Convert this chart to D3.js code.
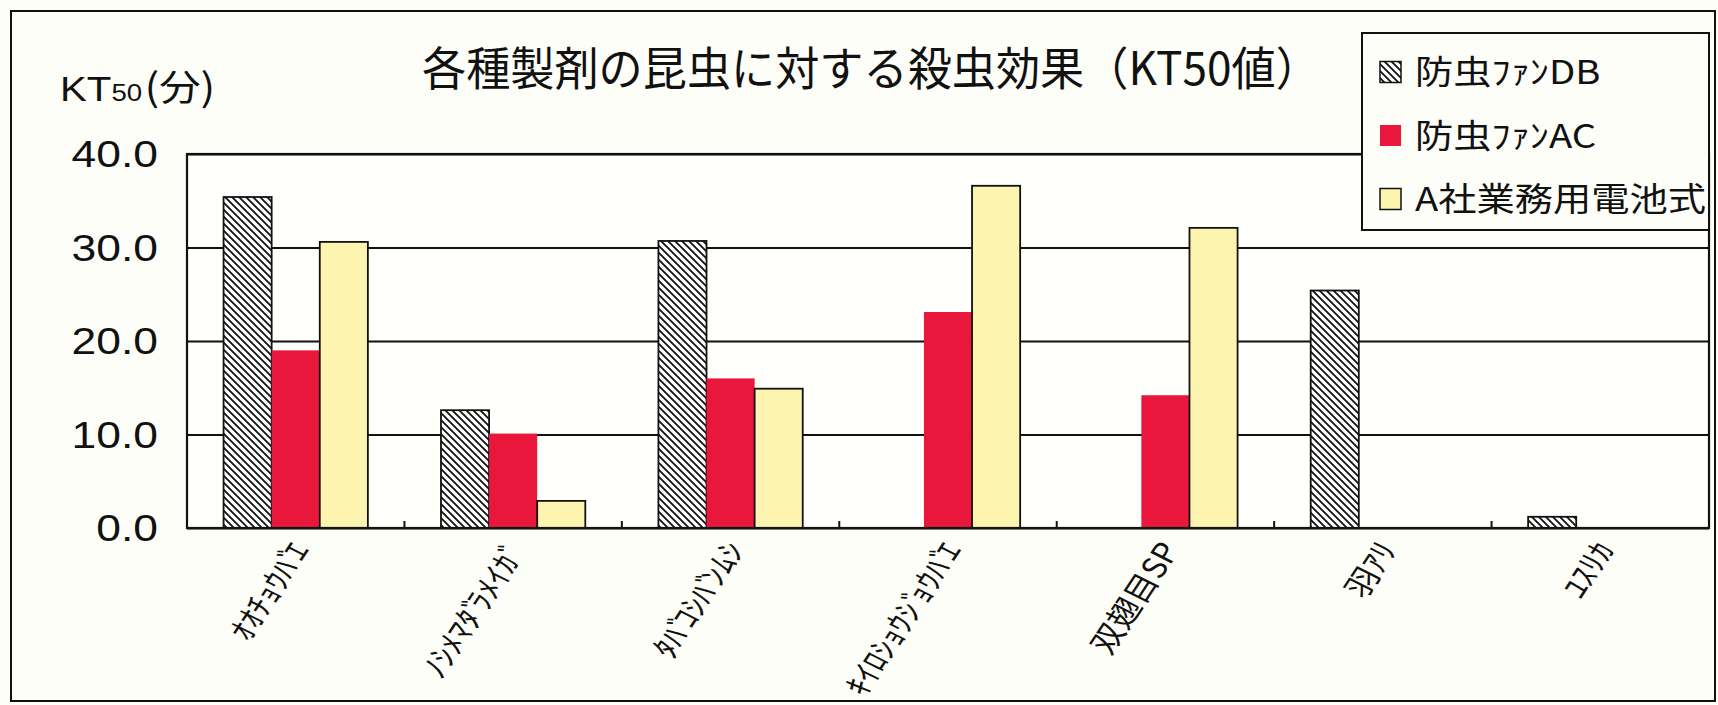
<!DOCTYPE html>
<html><head><meta charset="utf-8">
<script src="https://cdn.jsdelivr.net/npm/d3@7/dist/d3.min.js"></script>
<style>
html,body{margin:0;padding:0;background:#fefef8;}
svg{display:block;}
</style></head>
<body>
<script>
// ---- data ----
const categories = ["ｵｵﾁｮｳﾊﾞｴ","ﾉｼﾒﾏﾀﾞﾗﾒｲｶﾞ","ﾀﾊﾞｺｼﾊﾞﾝﾑｼ","ｷｲﾛｼｮｳｼﾞｮｳﾊﾞｴ","双翅目SP","羽ｱﾘ","ﾕｽﾘｶ"];
const seriesNames = ["防虫ﾌｧﾝDB","防虫ﾌｧﾝAC","A社業務用電池式"];
const valuesDB = [35.4, 12.6, 30.7, null, null, 25.4, 1.2];
const valuesAC = [19.0, 10.1, 16.0, 23.1, 14.2, null, null];
const valuesA  = [30.6, 2.9, 14.9, 36.6, 32.1, null, null];
const yTicks = [0, 10, 20, 30, 40];
const titleText = "各種製剤の昆虫に対する殺虫効果（KT50値）";

const W = 1718, H = 705;
const M = {left:187, right:1709, top:154, bottom:528};
const JP = "'Noto Sans CJK JP','Noto Sans',sans-serif";
const LAT = "'Liberation Sans',Arial,sans-serif";

const svg = d3.select("body").append("svg").attr("width", W).attr("height", H);
const defs = svg.append("defs");
const pat = defs.append("pattern").attr("id","hatch").attr("patternUnits","userSpaceOnUse")
  .attr("width",7).attr("height",7);
pat.append("rect").attr("width",7).attr("height",7).attr("fill","#ffffff");
pat.append("path").attr("d","M-1,-1 L8,8 M-1,6 L1,8 M6,-1 L8,1").attr("stroke","#111").attr("stroke-width",1.8);

const colors = ["url(#hatch)", "#e8173b", "#fdf4b0"];
const strokes = ["#111", "none", "#111"];

svg.append("rect").attr("width",W).attr("height",H).attr("fill","#fefef8");
// outer frame
svg.append("rect").attr("x",11).attr("y",11).attr("width",1704).attr("height",690)
  .attr("fill","none").attr("stroke","#111").attr("stroke-width",2);

const x = d3.scaleBand().domain(categories).range([M.left, M.right]).paddingInner(0).paddingOuter(0);
const x1 = d3.scaleBand().domain(seriesNames).range([0, x.bandwidth()]).paddingInner(0).paddingOuter(0.76);
const y = d3.scaleLinear().domain([0, 40]).range([M.bottom, M.top]);

// plot area
svg.append("rect").attr("x",M.left).attr("y",M.top).attr("width",M.right-M.left).attr("height",M.bottom-M.top)
  .attr("fill","#fffffb");

// gridlines
const yAxis = d3.axisLeft(y).tickValues(yTicks).tickSize(-(M.right-M.left)).tickFormat("");
const gy = svg.append("g").attr("transform",`translate(${M.left},0)`).call(yAxis);
gy.select(".domain").remove();
gy.selectAll(".tick line").attr("stroke","#111").attr("stroke-width",2);

// bars
const allVals = [valuesDB, valuesAC, valuesA];
const rows = [];
categories.forEach((c,i)=>seriesNames.forEach((s,j)=>{ if(allVals[j][i]!=null) rows.push({c,s,j,v:allVals[j][i]}); }));
svg.append("g").selectAll("rect").data(rows).join("rect")
  .attr("x",d=>x(d.c)+x1(d.s)).attr("width",x1.bandwidth())
  .attr("y",d=>y(d.v)).attr("height",d=>y(0)-y(d.v))
  .attr("fill",d=>colors[d.j]).attr("stroke",d=>strokes[d.j]).attr("stroke-width",1.8);

// plot border
svg.append("rect").attr("x",M.left).attr("y",M.top).attr("width",M.right-M.left).attr("height",M.bottom-M.top)
  .attr("fill","none").attr("stroke","#111").attr("stroke-width",2.2);

// x axis ticks (inward, at category boundaries)
const bounds = categories.slice(1).map(c=>x(c));
svg.append("g").selectAll("line").data(bounds).join("line")
  .attr("x1",d=>d).attr("x2",d=>d).attr("y1",M.bottom).attr("y2",M.bottom-7)
  .attr("stroke","#111").attr("stroke-width",2);

function stext(x0, y0, txt, size, family, anchor, sx, rot){
  const g = svg.append("g").attr("transform",`translate(${x0},${y0}) scale(${sx},1)` + (rot?` rotate(${rot})`:""));
  return g.append("text").attr("font-size",size).attr("font-family",family)
    .attr("text-anchor",anchor||"start").attr("fill","#111").text(txt);
}

// y tick labels
yTicks.forEach(t=>{
  stext(158, y(t)+13, d3.format(".1f")(t), 37, LAT, "end", 1.2);
});

// y axis title KT50(分)
{
  const g = svg.append("g").attr("transform",`translate(60,101) scale(1.15,1)`);
  const t = g.append("text").attr("font-family",JP).attr("fill","#111");
  t.append("tspan").attr("font-size",35).attr("font-family",LAT).text("KT");
  t.append("tspan").attr("font-size",24).attr("font-family",LAT).text("50");
  t.append("tspan").attr("font-size",38).attr("dx",2).text("(");
  t.append("tspan").attr("font-size",36).text("分");
  t.append("tspan").attr("font-size",38).text(")");
}

// title
stext(422, 85, titleText, 46, JP, "start", 0.96);

// x labels (half-width katakana, dakuten kerned tight)
categories.forEach(c=>{
  const g = svg.append("g").attr("transform",`translate(${x(c)+x.bandwidth()/2+15},550) scale(1.15,1) rotate(-60)`);
  const t = g.append("text").attr("font-size",29).attr("font-family",JP).attr("text-anchor","end").attr("fill","#111");
  const chars = Array.from(c);
  chars.forEach((ch,i)=>{
    const sp = t.append("tspan").text(ch);
    if(i>0 && (chars[i-1]==="ﾞ"||chars[i-1]==="ﾟ")) sp.attr("dx","-0.3em");
  });
});

// legend
const L = {x:1362, y:33, w:347, h:197};
svg.append("rect").attr("x",L.x).attr("y",L.y).attr("width",L.w).attr("height",L.h)
  .attr("fill","#fefef8").attr("stroke","#111").attr("stroke-width",2);
seriesNames.forEach((s,j)=>{
  const cy = 72 + j*63.5;
  svg.append("rect").attr("x",1380).attr("y",cy-10.5).attr("width",21).attr("height",21)
    .attr("fill",colors[j]).attr("stroke",strokes[j]).attr("stroke-width",1.5);
  stext(1415, cy+12, s, 33, JP, "start", 1.16);
});
</script>
</body></html>
